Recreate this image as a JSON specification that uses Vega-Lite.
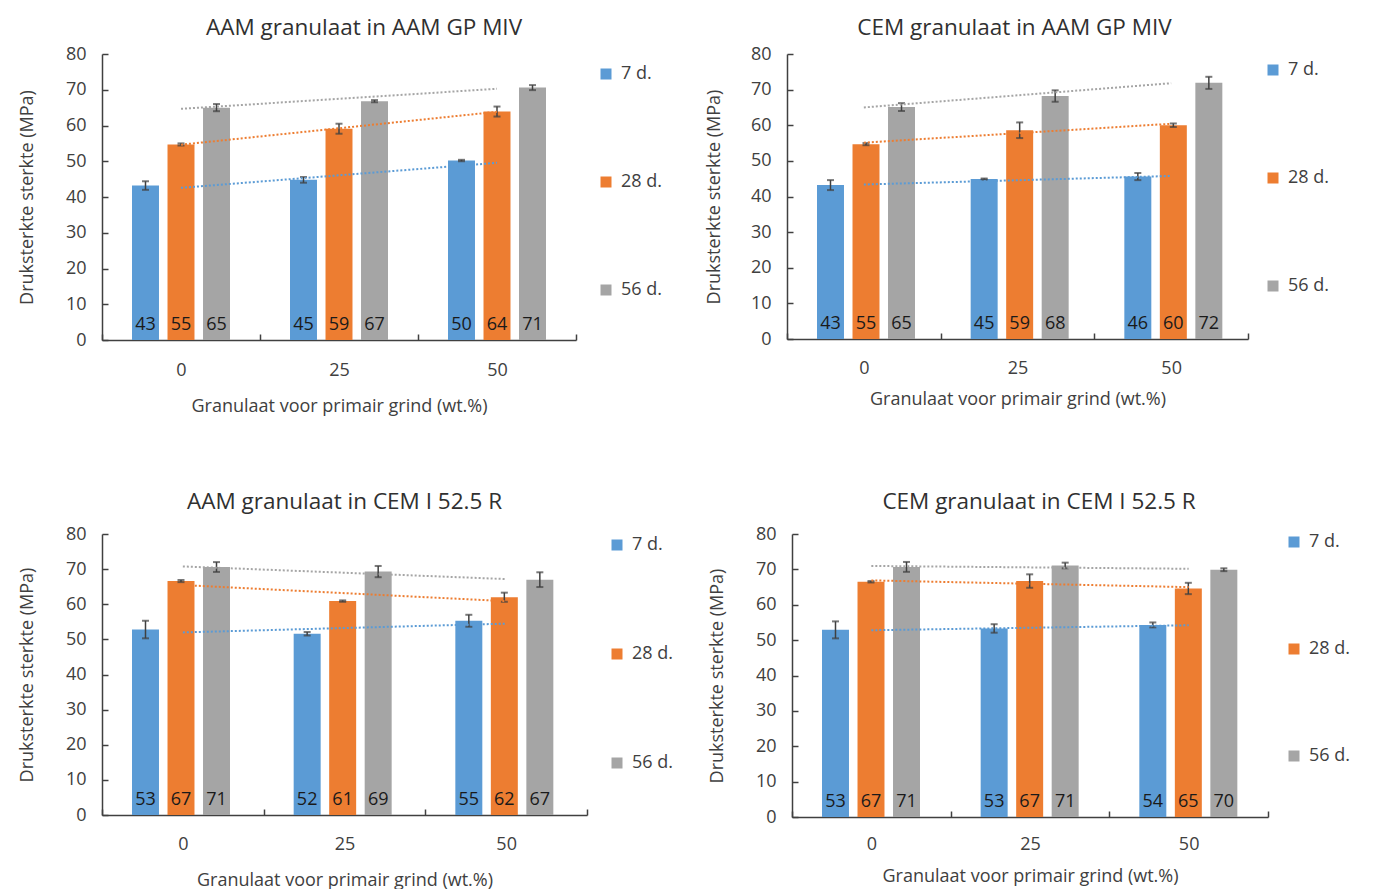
{
  "$schema": "https://vega.github.io/schema/vega-lite/v6.json",
  "padding": {"left": 18, "top": 16, "right": 5, "bottom": 0},
  "background": "white",
  "config": {
    "font": "Open Sans",
    "view": {"stroke": null},
    "axis": {"labelFontSize": 18, "labelColor": "#404040", "titleFontSize": 18, "titleColor": "#404040", "titleFontWeight": "normal", "domainColor": "#404040", "tickColor": "#404040", "grid": false, "domainWidth": 1.5, "tickWidth": 1.5},
    "title": {"fontSize": 22.5, "fontWeight": "normal", "color": "#303030", "anchor": "middle"},
    "legend": {"labelFontSize": 18, "labelColor": "#404040"}
  },
  "datasets": {
    "d": [
      {"p": 1, "g": 0, "s": "7 d.", "v": 43.2, "e": 1.2},
      {"p": 1, "g": 0, "s": "28 d.", "v": 54.7, "e": 0.3},
      {"p": 1, "g": 0, "s": "56 d.", "v": 65.0, "e": 1.0},
      {"p": 1, "g": 25, "s": "7 d.", "v": 44.8, "e": 0.8},
      {"p": 1, "g": 25, "s": "28 d.", "v": 59.1, "e": 1.4},
      {"p": 1, "g": 25, "s": "56 d.", "v": 66.8, "e": 0.3},
      {"p": 1, "g": 50, "s": "7 d.", "v": 50.2, "e": 0.2},
      {"p": 1, "g": 50, "s": "28 d.", "v": 63.9, "e": 1.4},
      {"p": 1, "g": 50, "s": "56 d.", "v": 70.6, "e": 0.7},
      {"p": 2, "g": 0, "s": "7 d.", "v": 43.2, "e": 1.4},
      {"p": 2, "g": 0, "s": "28 d.", "v": 54.7, "e": 0.3},
      {"p": 2, "g": 0, "s": "56 d.", "v": 65.1, "e": 1.1},
      {"p": 2, "g": 25, "s": "7 d.", "v": 44.9, "e": 0.15},
      {"p": 2, "g": 25, "s": "28 d.", "v": 58.6, "e": 2.2},
      {"p": 2, "g": 25, "s": "56 d.", "v": 68.2, "e": 1.6},
      {"p": 2, "g": 50, "s": "7 d.", "v": 45.6, "e": 1.0},
      {"p": 2, "g": 50, "s": "28 d.", "v": 60.0, "e": 0.5},
      {"p": 2, "g": 50, "s": "56 d.", "v": 71.9, "e": 1.7},
      {"p": 3, "g": 0, "s": "7 d.", "v": 52.8, "e": 2.5},
      {"p": 3, "g": 0, "s": "28 d.", "v": 66.6, "e": 0.3},
      {"p": 3, "g": 0, "s": "56 d.", "v": 70.6, "e": 1.4},
      {"p": 3, "g": 25, "s": "7 d.", "v": 51.6, "e": 0.5},
      {"p": 3, "g": 25, "s": "28 d.", "v": 60.9, "e": 0.2},
      {"p": 3, "g": 25, "s": "56 d.", "v": 69.3, "e": 1.6},
      {"p": 3, "g": 50, "s": "7 d.", "v": 55.3, "e": 1.7},
      {"p": 3, "g": 50, "s": "28 d.", "v": 62.0, "e": 1.3},
      {"p": 3, "g": 50, "s": "56 d.", "v": 67.0, "e": 2.1},
      {"p": 4, "g": 0, "s": "7 d.", "v": 52.9, "e": 2.4},
      {"p": 4, "g": 0, "s": "28 d.", "v": 66.5, "e": 0.2},
      {"p": 4, "g": 0, "s": "56 d.", "v": 70.7, "e": 1.4},
      {"p": 4, "g": 25, "s": "7 d.", "v": 53.3, "e": 1.2},
      {"p": 4, "g": 25, "s": "28 d.", "v": 66.7, "e": 1.9},
      {"p": 4, "g": 25, "s": "56 d.", "v": 71.1, "e": 0.8},
      {"p": 4, "g": 50, "s": "7 d.", "v": 54.3, "e": 0.7},
      {"p": 4, "g": 50, "s": "28 d.", "v": 64.6, "e": 1.6},
      {"p": 4, "g": 50, "s": "56 d.", "v": 69.9, "e": 0.4}
    ]
  },
  "data": {"name": "d"},
  "spacing": 75,
  "resolve": {"scale": {"color": "independent"}, "legend": {"color": "independent"}},
  "vconcat": [
    {
      "spacing": 42,
      "resolve": {"scale": {"color": "independent"}, "legend": {"color": "independent"}},
      "hconcat": [
        {
          "title": {"text": "AAM granulaat in AAM GP MIV", "offset": 6, "dx": 25},
          "width": 474, "height": 286,
          "transform": [{"filter": "datum.p == 1"}],
          "encoding": {
            "x": {"field": "g", "type": "ordinal", "scale": {"paddingInner": 0, "paddingOuter": 0}, "axis": {"title": "Granulaat voor primair grind (wt.%)", "labelAngle": 0, "tickBand": "extent", "tickSize": -6, "labelPadding": 27, "titlePadding": 18}},
            "y": {"field": "v", "type": "quantitative", "scale": {"domain": [0, 80]}, "axis": {"title": "Druksterkte sterkte (MPa)", "values": [0, 10, 20, 30, 40, 50, 60, 70, 80], "tickSize": -6, "labelPadding": 22, "titlePadding": 29}}
          },
          "layer": [
            {"mark": {"type": "bar"}, "encoding": {"xOffset": {"field": "s", "type": "nominal", "sort": ["7 d.", "28 d.", "56 d."], "scale": {"paddingInner": 0.24, "paddingOuter": 0.845}}, "color": {"field": "s", "type": "nominal", "scale": {"domain": ["7 d.", "28 d.", "56 d."], "range": ["#5B9BD5", "#ED7D31", "#A5A5A5"]}, "legend": {"orient": "none", "legendX": 495, "legendY": 11, "title": null, "rowPadding": 90, "symbolType": "square", "symbolSize": 121, "symbolStrokeWidth": 0, "labelOffset": 6}}}},
            {"mark": {"type": "errorbar", "color": "#404040", "thickness": 1.5, "ticks": {"size": 7, "thickness": 2}}, "encoding": {"xOffset": {"field": "s", "type": "nominal", "sort": ["7 d.", "28 d.", "56 d."]}, "yError": {"field": "e"}}},
            {"mark": {"type": "text", "fontSize": 18, "color": "#1a1a1a", "baseline": "alphabetic", "dy": -10}, "encoding": {"xOffset": {"field": "s", "type": "nominal", "sort": ["7 d.", "28 d.", "56 d."]}, "y": {"datum": 0}, "text": {"field": "v", "format": ".0f"}}},
            {"transform": [{"regression": "v", "on": "g", "groupby": ["s"]}], "mark": {"type": "line", "strokeDash": [2, 2], "strokeWidth": 2}, "encoding": {"x": {"field": "g", "type": "ordinal", "bandPosition": 0.5}, "color": {"field": "s", "type": "nominal", "legend": null}}}
          ]
        },
        {
          "title": {"text": "CEM granulaat in AAM GP MIV", "offset": 6, "dx": -3},
          "width": 461, "height": 285,
          "transform": [{"filter": "datum.p == 2"}],
          "encoding": {
            "x": {"field": "g", "type": "ordinal", "scale": {"paddingInner": 0, "paddingOuter": 0}, "axis": {"title": "Granulaat voor primair grind (wt.%)", "labelAngle": 0, "tickBand": "extent", "tickSize": -6, "labelPadding": 26, "titlePadding": 13}},
            "y": {"field": "v", "type": "quantitative", "scale": {"domain": [0, 80]}, "axis": {"title": "Druksterkte sterkte (MPa)", "values": [0, 10, 20, 30, 40, 50, 60, 70, 80], "tickSize": -6, "labelPadding": 22, "titlePadding": 27}}
          },
          "layer": [
            {"mark": {"type": "bar"}, "encoding": {"xOffset": {"field": "s", "type": "nominal", "sort": ["7 d.", "28 d.", "56 d."], "scale": {"paddingInner": 0.24, "paddingOuter": 0.845}}, "color": {"field": "s", "type": "nominal", "scale": {"domain": ["7 d.", "28 d.", "56 d."], "range": ["#5B9BD5", "#ED7D31", "#A5A5A5"]}, "legend": {"orient": "none", "legendX": 477, "legendY": 7, "title": null, "rowPadding": 90, "symbolType": "square", "symbolSize": 121, "symbolStrokeWidth": 0, "labelOffset": 6}}}},
            {"mark": {"type": "errorbar", "color": "#404040", "thickness": 1.5, "ticks": {"size": 7, "thickness": 2}}, "encoding": {"xOffset": {"field": "s", "type": "nominal", "sort": ["7 d.", "28 d.", "56 d."]}, "yError": {"field": "e"}}},
            {"mark": {"type": "text", "fontSize": 18, "color": "#1a1a1a", "baseline": "alphabetic", "dy": -10}, "encoding": {"xOffset": {"field": "s", "type": "nominal", "sort": ["7 d.", "28 d.", "56 d."]}, "y": {"datum": 0}, "text": {"field": "v", "format": ".0f"}}},
            {"transform": [{"regression": "v", "on": "g", "groupby": ["s"]}], "mark": {"type": "line", "strokeDash": [2, 2], "strokeWidth": 2}, "encoding": {"x": {"field": "g", "type": "ordinal", "bandPosition": 0.5}, "color": {"field": "s", "type": "nominal", "legend": null}}}
          ]
        }
      ]
    },
    {
      "spacing": 34,
      "resolve": {"scale": {"color": "independent"}, "legend": {"color": "independent"}},
      "hconcat": [
        {
          "title": {"text": "AAM granulaat in CEM I 52.5 R", "offset": 12},
          "width": 485, "height": 281,
          "transform": [{"filter": "datum.p == 3"}],
          "encoding": {
            "x": {"field": "g", "type": "ordinal", "scale": {"paddingInner": 0, "paddingOuter": 0}, "axis": {"title": "Granulaat voor primair grind (wt.%)", "labelAngle": 0, "tickBand": "extent", "tickSize": -6, "labelPadding": 26, "titlePadding": 18}},
            "y": {"field": "v", "type": "quantitative", "scale": {"domain": [0, 80]}, "axis": {"title": "Druksterkte sterkte (MPa)", "values": [0, 10, 20, 30, 40, 50, 60, 70, 80], "tickSize": -6, "labelPadding": 22, "titlePadding": 29}}
          },
          "layer": [
            {"mark": {"type": "bar"}, "encoding": {"xOffset": {"field": "s", "type": "nominal", "sort": ["7 d.", "28 d.", "56 d."], "scale": {"paddingInner": 0.24, "paddingOuter": 0.845}}, "color": {"field": "s", "type": "nominal", "scale": {"domain": ["7 d.", "28 d.", "56 d."], "range": ["#5B9BD5", "#ED7D31", "#A5A5A5"]}, "legend": {"orient": "none", "legendX": 506, "legendY": 2, "title": null, "rowPadding": 91, "symbolType": "square", "symbolSize": 121, "symbolStrokeWidth": 0, "labelOffset": 6}}}},
            {"mark": {"type": "errorbar", "color": "#404040", "thickness": 1.5, "ticks": {"size": 7, "thickness": 2}}, "encoding": {"xOffset": {"field": "s", "type": "nominal", "sort": ["7 d.", "28 d.", "56 d."]}, "yError": {"field": "e"}}},
            {"mark": {"type": "text", "fontSize": 18, "color": "#1a1a1a", "baseline": "alphabetic", "dy": -10}, "encoding": {"xOffset": {"field": "s", "type": "nominal", "sort": ["7 d.", "28 d.", "56 d."]}, "y": {"datum": 0}, "text": {"field": "v", "format": ".0f"}}},
            {"transform": [{"regression": "v", "on": "g", "groupby": ["s"]}], "mark": {"type": "line", "strokeDash": [2, 2], "strokeWidth": 2}, "encoding": {"x": {"field": "g", "type": "ordinal", "bandPosition": 0.5}, "color": {"field": "s", "type": "nominal", "legend": null}}}
          ]
        },
        {
          "title": {"text": "CEM granulaat in CEM I 52.5 R", "offset": 12, "dx": 9},
          "width": 476, "height": 283,
          "transform": [{"filter": "datum.p == 4"}],
          "encoding": {
            "x": {"field": "g", "type": "ordinal", "scale": {"paddingInner": 0, "paddingOuter": 0}, "axis": {"title": "Granulaat voor primair grind (wt.%)", "labelAngle": 0, "tickBand": "extent", "tickSize": -6, "labelPadding": 24, "titlePadding": 14}},
            "y": {"field": "v", "type": "quantitative", "scale": {"domain": [0, 80]}, "axis": {"title": "Druksterkte sterkte (MPa)", "values": [0, 10, 20, 30, 40, 50, 60, 70, 80], "tickSize": -6, "labelPadding": 22, "titlePadding": 29}}
          },
          "layer": [
            {"mark": {"type": "bar"}, "encoding": {"xOffset": {"field": "s", "type": "nominal", "sort": ["7 d.", "28 d.", "56 d."], "scale": {"paddingInner": 0.24, "paddingOuter": 0.845}}, "color": {"field": "s", "type": "nominal", "scale": {"domain": ["7 d.", "28 d.", "56 d."], "range": ["#5B9BD5", "#ED7D31", "#A5A5A5"]}, "legend": {"orient": "none", "legendX": 493, "legendY": -1, "title": null, "rowPadding": 89, "symbolType": "square", "symbolSize": 121, "symbolStrokeWidth": 0, "labelOffset": 6}}}},
            {"mark": {"type": "errorbar", "color": "#404040", "thickness": 1.5, "ticks": {"size": 7, "thickness": 2}}, "encoding": {"xOffset": {"field": "s", "type": "nominal", "sort": ["7 d.", "28 d.", "56 d."]}, "yError": {"field": "e"}}},
            {"mark": {"type": "text", "fontSize": 18, "color": "#1a1a1a", "baseline": "alphabetic", "dy": -10}, "encoding": {"xOffset": {"field": "s", "type": "nominal", "sort": ["7 d.", "28 d.", "56 d."]}, "y": {"datum": 0}, "text": {"field": "v", "format": ".0f"}}},
            {"transform": [{"regression": "v", "on": "g", "groupby": ["s"]}], "mark": {"type": "line", "strokeDash": [2, 2], "strokeWidth": 2}, "encoding": {"x": {"field": "g", "type": "ordinal", "bandPosition": 0.5}, "color": {"field": "s", "type": "nominal", "legend": null}}}
          ]
        }
      ]
    }
  ]
}
